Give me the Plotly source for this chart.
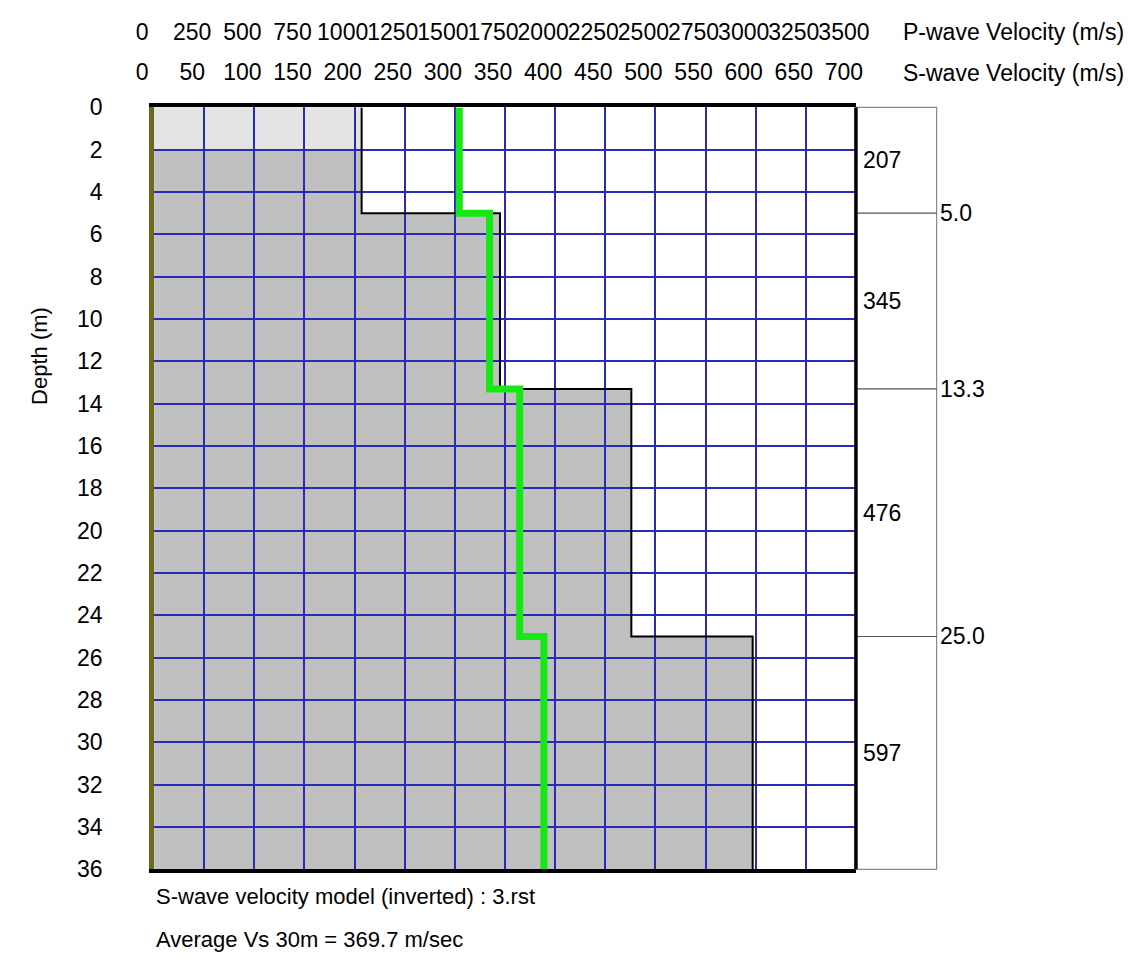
import plotly.graph_objects as go

# ---------------- data ----------------
layer_top = [0.0, 5.0, 13.3, 25.0]
layer_bottom = [5.0, 13.3, 25.0, 36.0]
vs_values = [207, 345, 476, 597]          # S-wave velocity per layer (m/s)
vp_values = [1522, 1673, 1823, 1944]      # P-wave velocity per layer (m/s)
vs_labels = ["207", "345", "476", "597"]
boundary_labels = ["5.0", "13.3", "25.0"]
light_band_depth = 2.0                    # lighter shaded top band
s_ticks = list(range(0, 701, 50))
p_ticks = list(range(0, 3501, 250))
depth_ticks = list(range(0, 37, 2))
caption1 = "S-wave velocity model (inverted) : 3.rst"
caption2 = "Average Vs 30m = 369.7 m/sec"

# ---------------- geometry / style ----------------
W, H = 1146, 966
L, R, T, B = 140, 862, 97, 880
BOX_R = 945
FONT = "Liberation Sans, Arial, sans-serif"
FS = 23
GRID = "#2a2ab8"
OLIVE = "#6b6a1c"
GREEN = "#16e816"
xdom = [L / W, R / W]
ydom = [1 - B / H, 1 - T / H]
box_frac = (BOX_R - L) / (R - L)


def step_profile(values, tops, bottoms):
    xs, ys = [], []
    for v, t, b in zip(values, tops, bottoms):
        xs += [v, v]
        ys += [t, b]
    return xs, ys


vs_x, vs_y = step_profile(vs_values, layer_top, layer_bottom)
vp_x, vp_y = step_profile(vp_values, layer_top, layer_bottom)

fig = go.Figure()
fig.add_trace(go.Scatter(x=vs_x, y=vs_y, mode="lines", xaxis="x", yaxis="y",
                         line=dict(color="black", width=2), showlegend=False, hoverinfo="skip"))
fig.add_trace(go.Scatter(x=vp_x, y=vp_y, mode="lines", xaxis="x2", yaxis="y",
                         line=dict(color=GREEN, width=7), showlegend=False, hoverinfo="skip"))

# filled S-wave profile (below grid)
path = "M 0,0 " + " ".join(f"L {x},{y}" for x, y in zip(vs_x, vs_y)) + f" L 0,{vs_y[-1]} Z"
shapes = [
    dict(type="path", path=path, xref="x", yref="y", layer="below",
         fillcolor="#c0c0c0", line=dict(width=0)),
    dict(type="rect", xref="x", yref="y", x0=0, x1=vs_values[0], y0=0, y1=light_band_depth,
         layer="below", fillcolor="#e4e4e4", line=dict(width=0)),
    dict(type="rect", xref="x domain", yref="y domain", x0=1, x1=box_frac, y0=0, y1=1,
         line=dict(color="#8a8a8a", width=1.2), layer="above"),
]
for d in layer_top[1:]:
    shapes.append(dict(type="line", xref="x domain", yref="y", x0=1, x1=box_frac, y0=d, y1=d,
                       line=dict(color="#555555", width=1.2), layer="above"))
shapes.append(dict(type="line", xref="x domain", yref="y domain", x0=1, x1=1, y0=0, y1=1,
                   line=dict(color="black", width=3.5), layer="above"))

annotations = []
for lab, t, b in zip(vs_labels, layer_top, layer_bottom):
    annotations.append(dict(text=lab, xref="x domain", yref="y", x=1, y=(t + b) / 2,
                            xanchor="left", yanchor="middle", xshift=5, showarrow=False,
                            font=dict(family=FONT, size=FS, color="black")))
for lab, d in zip(boundary_labels, layer_top[1:]):
    annotations.append(dict(text=lab, xref="x domain", yref="y", x=box_frac, y=d,
                            xanchor="left", yanchor="middle", xshift=1, showarrow=False,
                            font=dict(family=FONT, size=FS, color="black")))
annotations += [
    dict(text="P-wave Velocity (m/s)", xref="paper", yref="paper", x=908 / W, y=1 - 20 / H,
         xanchor="left", yanchor="middle", showarrow=False, font=dict(family=FONT, size=FS, color="black")),
    dict(text="S-wave Velocity (m/s)", xref="paper", yref="paper", x=908 / W, y=1 - 62 / H,
         xanchor="left", yanchor="middle", showarrow=False, font=dict(family=FONT, size=FS, color="black")),
    dict(text="Depth (m)", xref="paper", yref="paper", x=22 / W, y=1 - 352 / H, textangle=-90,
         xanchor="center", yanchor="middle", showarrow=False, font=dict(family=FONT, size=FS - 1, color="black")),
    dict(text=caption1, xref="x domain", yref="paper", x=0, y=1 - 908 / H,
         xanchor="left", yanchor="middle", showarrow=False, font=dict(family=FONT, size=FS - 1, color="black")),
    dict(text=caption2, xref="x domain", yref="paper", x=0, y=1 - 952 / H,
         xanchor="left", yanchor="middle", showarrow=False, font=dict(family=FONT, size=FS - 1, color="black")),
]

fig.update_layout(
    width=W, height=H, margin=dict(l=0, r=0, t=0, b=0),
    paper_bgcolor="white", plot_bgcolor="white",
    font=dict(family=FONT, size=FS, color="black"),
    showlegend=False, shapes=shapes, annotations=annotations,
    xaxis=dict(domain=xdom, range=[0, 700], side="top", anchor="y",
               tickmode="array", tickvals=s_ticks, ticktext=[str(v) for v in s_ticks],
               tickangle=0, ticks="", ticklabelstandoff=14, ticklabelshift=-12,
               showgrid=True, gridcolor=GRID, gridwidth=1.5, zeroline=False,
               showline=True, linecolor="black", linewidth=3.5, mirror=True,
               tickfont=dict(family=FONT, size=FS, color="black"), fixedrange=True),
    xaxis2=dict(overlaying="x", range=[0, 3500], side="top", anchor="y",
                tickmode="array", tickvals=p_ticks, ticktext=[str(v) for v in p_ticks],
                tickangle=0, ticks="", ticklabelstandoff=62, ticklabelshift=-12,
                showgrid=False, zeroline=False, showline=False,
                tickfont=dict(family=FONT, size=FS, color="black"), fixedrange=True),
    yaxis=dict(domain=ydom, range=[36, 0], anchor="x",
               tickmode="array", tickvals=depth_ticks, ticktext=[str(v) for v in depth_ticks],
               ticks="", ticklabelstandoff=42,
               showgrid=True, gridcolor=GRID, gridwidth=1.5, zeroline=False,
               showline=True, linecolor=OLIVE, linewidth=5, mirror=False,
               tickfont=dict(family=FONT, size=FS, color="black"), fixedrange=True),
)

fig.write_html("out.html", config={"displayModeBar": False},
               post_script="document.body.style.margin='0px';")
